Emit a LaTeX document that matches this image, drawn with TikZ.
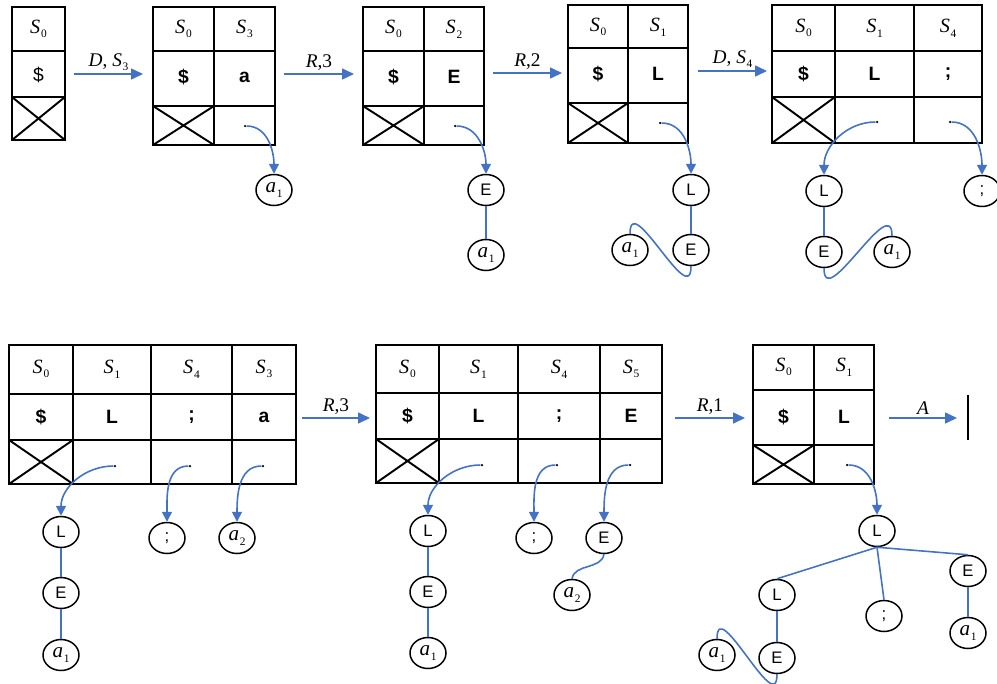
\documentclass[tikz,border=0pt]{standalone}
\usepackage{fontspec}
\setmainfont{Liberation Serif}
\newfontfamily\arial{Liberation Sans}
\usetikzlibrary{arrows.meta,shapes.geometric}

\definecolor{linkblue}{RGB}{68,114,196}
% state / symbol with a small lowered index
\newcommand{\sym}[2]{\textit{#1}\kern0.4pt\raisebox{-0.5ex}{\fontsize{6.5}{7}\selectfont #2}}
\newcommand{\leafa}[1]{{\rmfamily\fontsize{12}{13}\selectfont\sym{a}{#1}}}

\begin{document}
\begin{tikzpicture}[x=0.02cm,y=-0.02cm,
	tbl/.style={line width=1.1pt},
	hd/.style={font=\fontsize{11.5}{12}\selectfont},
	val/.style={font=\arial\bfseries\fontsize{11}{12}\selectfont},
	leaf/.style={draw, ellipse, line width=0.85pt, minimum width=0.72cm, minimum height=0.62cm, inner sep=0pt, font=\arial\fontsize{9.5}{10}\selectfont},
	dot/.style={circle, fill, inner sep=0pt, minimum size=0.05cm},
	ptr/.style={linkblue, line width=0.9pt, -{Triangle[length=2mm,width=2mm]}},
	move/.style={linkblue, line width=0.9pt, -{Triangle[length=2.4mm,width=2.2mm]}},
	branch/.style={linkblue, line width=0.9pt},
	lbl/.style={above, text=black, font=\fontsize{11}{12}\selectfont, inner sep=1.5pt}]
	\useasboundingbox (0,0) rectangle (997,683);

	% ---------- first row ----------

	% Stack 1: S0 / $
	\draw[tbl] (12,7) rectangle (65,140);
	\draw[tbl] (12,51) -- (65,51) (12,97) -- (65,97);
	\draw[tbl] (12,97) -- (65,140) (12,140) -- (65,97);
	\node[hd] (t1s0) at (38.5,29) {\sym{S}{0}};
	\node[font=\arial\fontsize{11}{12}\selectfont] (t1v0) at (38.5,75) {\$};

	\coordinate (m1a) at (74,74);
	\coordinate (m1b) at (143,74);
	\draw[move] (m1a) -- node[lbl] {\textit{D}, \sym{S}{3}} (m1b);

	% Stack 2: S0 S3 / $ a
	\draw[tbl] (153,7) rectangle (275,145);
	\draw[tbl] (153,51) -- (275,51) (153,106) -- (275,106) (214,7) -- (214,145);
	\draw[tbl] (153,106) -- (214,145) (153,145) -- (214,106);
	\node[hd] (t2s0) at (183.5,29) {\sym{S}{0}};
	\node[hd] (t2s1) at (244.5,29) {\sym{S}{3}};
	\node[val] (t2v0) at (183.5,77) {\$};
	\node[val] (t2v1) at (244.5,77) {a};
	\node[dot] (p2) at (245,126) {};
	\node[leaf] (c2a) at (274,190) {\leafa{1}};
	\draw[ptr] (p2) to[out=0,in=90] (c2a);

	\coordinate (m2a) at (284,74);
	\coordinate (m2b) at (354,74);
	\draw[move] (m2a) -- node[lbl] {\textit{R},3} (m2b);

	% Stack 3: S0 S2 / $ E
	\draw[tbl] (363,7) rectangle (484,145);
	\draw[tbl] (363,51) -- (484,51) (363,106) -- (484,106) (424,7) -- (424,145);
	\draw[tbl] (363,106) -- (424,145) (363,145) -- (424,106);
	\node[hd] (t3s0) at (393.5,29) {\sym{S}{0}};
	\node[hd] (t3s1) at (454,29) {\sym{S}{2}};
	\node[val] (t3v0) at (393.5,77) {\$};
	\node[val] (t3v1) at (454,77) {E};
	\node[dot] (p3) at (455,126) {};
	\node[leaf] (c3e) at (486,190) {E};
	\node[leaf] (c3a) at (486,255) {\leafa{1}};
	\draw[ptr] (p3) to[out=0,in=90] (c3e);
	\draw[branch] (c3e) -- (c3a);

	\coordinate (m3a) at (493,73);
	\coordinate (m3b) at (562,73);
	\draw[move] (m3a) -- node[lbl] {\textit{R},2} (m3b);

	% Stack 4: S0 S1 / $ L
	\draw[tbl] (568,5) rectangle (688,143);
	\draw[tbl] (568,48) -- (688,48) (568,103) -- (688,103) (628,5) -- (628,143);
	\draw[tbl] (568,103) -- (628,143) (568,143) -- (628,103);
	\node[hd] (t4s0) at (598,27) {\sym{S}{0}};
	\node[hd] (t4s1) at (658,27) {\sym{S}{1}};
	\node[val] (t4v0) at (598,74) {\$};
	\node[val] (t4v1) at (658,74) {L};
	\node[dot] (p4) at (660,123) {};
	\node[leaf] (c4l) at (691,190) {L};
	\node[leaf] (c4e) at (691,250) {E};
	\node[leaf] (c4a) at (630,250) {\leafa{1}};
	\draw[ptr] (p4) to[out=0,in=90] (c4l);
	\draw[branch] (c4l) -- (c4e);
	\draw[branch] (c4a.north) .. controls +(0,-45) and +(0,45) .. (c4e.south);

	\coordinate (m4a) at (698,71);
	\coordinate (m4b) at (767,71);
	\draw[move] (m4a) -- node[lbl] {\textit{D}, \sym{S}{4}} (m4b);

	% Stack 5: S0 S1 S4 / $ L ;
	\draw[tbl] (772,5) rectangle (982,143);
	\draw[tbl] (772,51) -- (982,51) (772,97) -- (982,97);
	\draw[tbl] (835,5) -- (835,143) (914,5) -- (914,143);
	\draw[tbl] (772,97) -- (835,143) (772,143) -- (835,97);
	\node[hd] (t5s0) at (803.5,28) {\sym{S}{0}};
	\node[hd] (t5s1) at (874.5,28) {\sym{S}{1}};
	\node[hd] (t5s2) at (948,28) {\sym{S}{4}};
	\node[val] (t5v0) at (803.5,74) {\$};
	\node[val] (t5v1) at (874.5,74) {L};
	\node[val] (t5v2) at (948,74) {;};
	\node[dot] (p5a) at (877,122) {};
	\node[dot] (p5b) at (950,122) {};
	\node[leaf] (c5l) at (824,191) {L};
	\node[leaf] (c5e) at (824,252) {E};
	\node[leaf] (c5a) at (892,252) {\leafa{1}};
	\node[leaf] (c5s) at (982,191) {;};
	\draw[ptr] (p5a) to[out=180,in=90] (c5l);
	\draw[ptr] (p5b) to[out=0,in=90] (c5s);
	\draw[branch] (c5l) -- (c5e);
	\draw[branch] (c5e.south) .. controls +(0,45) and +(0,-45) .. (c5a.north);

	% ---------- second row ----------

	% Stack 6: S0 S1 S4 S3 / $ L ; a
	\draw[tbl] (9,345) rectangle (296,484);
	\draw[tbl] (9,394) -- (296,394) (9,440) -- (296,440);
	\draw[tbl] (73,345) -- (73,484) (151,345) -- (151,484) (232,345) -- (232,484);
	\draw[tbl] (9,440) -- (73,484) (9,484) -- (73,440);
	\node[hd] (t6s0) at (41,369) {\sym{S}{0}};
	\node[hd] (t6s1) at (112,369) {\sym{S}{1}};
	\node[hd] (t6s2) at (191.5,369) {\sym{S}{4}};
	\node[hd] (t6s3) at (264,369) {\sym{S}{3}};
	\node[val] (t6v0) at (41,417) {\$};
	\node[val] (t6v1) at (112,417) {L};
	\node[val] (t6v2) at (191.5,417) {;};
	\node[val] (t6v3) at (264,417) {a};
	\node[dot] (p6a) at (115,466) {};
	\node[dot] (p6b) at (190,466) {};
	\node[dot] (p6c) at (263,466) {};
	\node[leaf] (c6l) at (61,532) {L};
	\node[leaf] (c6e) at (61,593) {E};
	\node[leaf] (c6a) at (61,655) {\leafa{1}};
	\node[leaf] (c6s) at (167,538) {;};
	\node[leaf] (c6b) at (237,538) {\leafa{2}};
	\draw[ptr] (p6a) to[out=180,in=90] (c6l);
	\draw[ptr] (p6b) to[out=180,in=90] (c6s);
	\draw[ptr] (p6c) to[out=180,in=90] (c6b);
	\draw[branch] (c6l) -- (c6e) (c6e) -- (c6a);

	\coordinate (m6a) at (302,418);
	\coordinate (m6b) at (370,418);
	\draw[move] (m6a) -- node[lbl] {\textit{R},3} (m6b);

	% Stack 7: S0 S1 S4 S5 / $ L ; E
	\draw[tbl] (376,345) rectangle (662,483);
	\draw[tbl] (376,393) -- (662,393) (376,439) -- (662,439);
	\draw[tbl] (439,345) -- (439,483) (518,345) -- (518,483) (600,345) -- (600,483);
	\draw[tbl] (376,439) -- (439,483) (376,483) -- (439,439);
	\node[hd] (t7s0) at (407.5,369) {\sym{S}{0}};
	\node[hd] (t7s1) at (478.5,369) {\sym{S}{1}};
	\node[hd] (t7s2) at (559,369) {\sym{S}{4}};
	\node[hd] (t7s3) at (631,369) {\sym{S}{5}};
	\node[val] (t7v0) at (407.5,416) {\$};
	\node[val] (t7v1) at (478.5,416) {L};
	\node[val] (t7v2) at (559,416) {;};
	\node[val] (t7v3) at (631,416) {E};
	\node[dot] (p7a) at (482,465) {};
	\node[dot] (p7b) at (557,465) {};
	\node[dot] (p7c) at (630,465) {};
	\node[leaf] (c7l) at (428,531) {L};
	\node[leaf] (c7e) at (428,592) {E};
	\node[leaf] (c7a) at (428,653) {\leafa{1}};
	\node[leaf] (c7s) at (534,538) {;};
	\node[leaf] (c7f) at (604,538) {E};
	\node[leaf] (c7b) at (572,595) {\leafa{2}};
	\draw[ptr] (p7a) to[out=180,in=90] (c7l);
	\draw[ptr] (p7b) to[out=180,in=90] (c7s);
	\draw[ptr] (p7c) to[out=180,in=90] (c7f);
	\draw[branch] (c7l) -- (c7e) (c7e) -- (c7a);
	\draw[branch] (c7f.south) to[out=-100,in=80] (c7b.north);

	\coordinate (m7a) at (675,418);
	\coordinate (m7b) at (745,418);
	\draw[move] (m7a) -- node[lbl] {\textit{R},1} (m7b);

	% Stack 8: S0 S1 / $ L, then accept
	\draw[tbl] (753,345) rectangle (874,484);
	\draw[tbl] (753,390) -- (874,390) (753,445) -- (874,445) (814,345) -- (814,484);
	\draw[tbl] (753,445) -- (814,484) (753,484) -- (814,445);
	\node[hd] (t8s0) at (783.5,367) {\sym{S}{0}};
	\node[hd] (t8s1) at (844,367) {\sym{S}{1}};
	\node[val] (t8v0) at (783.5,417) {\$};
	\node[val] (t8v1) at (844,417) {L};
	\node[dot] (p8) at (847,465) {};
	\node[leaf] (c8r) at (877,531) {L};
	\node[leaf] (c8l) at (777,595) {L};
	\node[leaf] (c8s) at (884,616) {;};
	\node[leaf] (c8e) at (968,571) {E};
	\node[leaf] (c8f) at (968,633) {\leafa{1}};
	\node[leaf] (c8g) at (777,658) {E};
	\node[leaf] (c8a) at (717,655) {\leafa{1}};
	\draw[ptr] (p8) to[out=0,in=90] (c8r);
	\draw[branch] (c8r.south) -- (c8l.north);
	\draw[branch] (c8r.south) -- (c8s.north);
	\draw[branch] (c8r.south) -- (c8e.north);
	\draw[branch] (c8e) -- (c8f);
	\draw[branch] (c8l) -- (c8g);
	\draw[branch] (c8a.north) .. controls +(0,-45) and +(0,45) .. (c8g.south);

	\coordinate (m8a) at (889,418);
	\coordinate (m8b) at (957,418);
	\draw[move] (m8a) -- node[lbl] {\textit{A}} (m8b);
	\draw[tbl] (968,395) -- (968,440);
\end{tikzpicture}
\end{document}
